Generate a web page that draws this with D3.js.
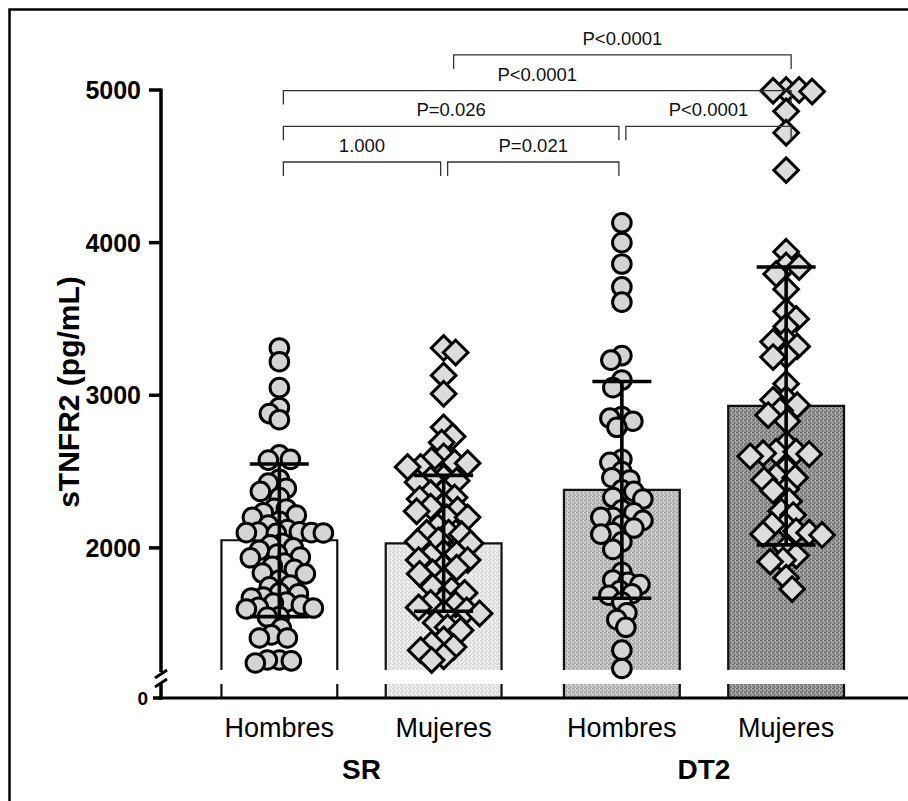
<!DOCTYPE html>
<html><head><meta charset="utf-8">
<script src="https://cdn.jsdelivr.net/npm/d3@7"></script>
<style>body{margin:0;background:#fff}svg{display:block}</style>
</head><body>
<svg id="chart" width="908" height="801"></svg>
<script>
// ---- data ----
const categories = ["Hombres", "Mujeres", "Hombres", "Mujeres"];
const groupOf = ["SR", "SR", "DT2", "DT2"];
const groupNames = ["SR", "DT2"];
const means = [2050, 2030, 2380, 2930];
const sds = [500, 445, 710, 910];
const yTicks = [0, 2000, 3000, 4000, 5000];

const srHombres = [3310, 3220, 3050, 2920, 2880, 2840, 2610, 2580, 2575, 2450, 2425, 2390, 2370, 2330,
  2260, 2255, 2230, 2215, 2200, 2175, 2150, 2120, 2105, 2104, 2100, 2100, 2098, 2095, 2030, 2020, 2000,
  1985, 1960, 1940, 1935, 1900, 1880, 1860, 1835, 1830, 1790, 1757, 1745, 1705, 1700, 1678, 1672, 1645,
  1638, 1626, 1610, 1606, 1600, 1550, 1547, 1475, 1430, 1410, 1410, 1266, 1266, 1260, 1246];
const srMujeres = [3310, 3280, 3130, 3010, 2790, 2730, 2690, 2600, 2575, 2560, 2555, 2530, 2530, 2460,
  2450, 2440, 2430, 2370, 2360, 2330, 2320, 2280, 2270, 2250, 2240, 2200, 2200, 2140, 2100, 2100, 2090,
  2050, 2040, 2030, 1970, 1960, 1950, 1920, 1920, 1880, 1870, 1840, 1830, 1790, 1745, 1725, 1705, 1660,
  1640, 1630, 1610, 1590, 1575, 1570, 1510, 1480, 1460, 1400, 1370, 1350, 1330, 1290, 1265];
const dt2Hombres = [4130, 4000, 3860, 3710, 3610, 3260, 3230, 3100, 3050, 2860, 2850, 2830, 2790, 2580,
  2560, 2500, 2460, 2445, 2380, 2370, 2330, 2320, 2250, 2230, 2200, 2200, 2180, 2150, 2130, 2100, 2090,
  2040, 1990, 1840, 1790, 1775, 1760, 1720, 1700, 1690, 1645, 1575, 1530, 1480, 1330, 1210];
const dt2Mujeres = [5000, 4995, 4990, 5000, 4860, 4720, 4475, 3940, 3850, 3840, 3795, 3695, 3550, 3500,
  3450, 3360, 3350, 3320, 3260, 3250, 3075, 2975, 2970, 2935, 2900, 2870, 2830, 2680, 2630, 2630, 2620,
  2615, 2600, 2520, 2470, 2460, 2445, 2385, 2375, 2305, 2240, 2215, 2150, 2150, 2110, 2100, 2090, 2085,
  2000, 1950, 1920, 1910, 1805, 1730];
const seriesValues = [srHombres, srMujeres, dt2Hombres, dt2Mujeres];
const markerShape = ["circle", "diamond", "circle", "diamond"];

const brackets = [
  {from: 0, to: 1, label: "1.000", level: 0},
  {from: 1, to: 2, label: "P=0.021", level: 0},
  {from: 0, to: 2, label: "P=0.026", level: 1},
  {from: 2, to: 3, label: "P<0.0001", level: 1},
  {from: 0, to: 3, label: "P<0.0001", level: 2},
  {from: 1, to: 3, label: "P<0.0001", level: 3}
];

// ---- layout ----
const svg = d3.select("#chart");
const FONT = "'Liberation Sans', Arial, Helvetica, sans-serif";
const axisX = 161;
const yUpper = d3.scaleLinear().domain([1200, 5000]).range([670, 90]);
const yLower = d3.scaleLinear().domain([0, 100]).range([698, 684]);
const xGroup = d3.scaleBand().domain(groupNames).range([190.25, 875.25]).paddingInner(0);
const xSex = d3.scaleBand().domain(["Hombres", "Mujeres"]).range([0, xGroup.bandwidth()])
  .paddingInner(0.295).paddingOuter(0.19);
const barX = i => xGroup(groupOf[i]) + xSex(categories[i]);
const barW = xSex.bandwidth();
const xc = i => barX(i) + barW / 2;

// frame
svg.append("rect").attr("x", 9.5).attr("y", 9.5).attr("width", 1000).attr("height", 1000)
  .attr("fill", "none").attr("stroke", "#000").attr("stroke-width", 2.5);

// patterns
const defs = svg.append("defs");
function makePattern(id, base, dot, dot2) {
  const p = defs.append("pattern").attr("id", id).attr("patternUnits", "userSpaceOnUse")
    .attr("width", 4).attr("height", 4);
  p.append("rect").attr("width", 4).attr("height", 4).attr("fill", base);
  p.append("rect").attr("x", 0).attr("y", 0).attr("width", 2).attr("height", 1).attr("fill", dot);
  p.append("rect").attr("x", 2).attr("y", 2).attr("width", 1).attr("height", 2).attr("fill", dot);
  p.append("rect").attr("x", 3).attr("y", 0).attr("width", 1).attr("height", 1).attr("fill", dot2);
}
makePattern("p1", "#eaeaea", "#cfcfcf", "#f6f6f6");
makePattern("p2", "#c6c6c6", "#9c9c9c", "#dedede");
makePattern("p3", "#9a9a9a", "#666666", "#bdbdbd");
const barFill = ["#ffffff", "url(#p1)", "url(#p2)", "url(#p3)"];

// bars (upper + lower segments)
categories.forEach((c, i) => {
  const g = svg.append("g");
  const top = yUpper(means[i]), bot = yUpper.range()[0];
  g.append("rect").attr("x", barX(i)).attr("y", top).attr("width", barW).attr("height", bot - top)
    .attr("fill", barFill[i]).attr("stroke", "none");
  g.append("path").attr("d", `M${barX(i)},${bot}V${top}H${barX(i) + barW}V${bot}`)
    .attr("fill", "none").attr("stroke", "#111").attr("stroke-width", 2.2);
  const lt = yLower.range()[1], lb = yLower(0);
  g.append("rect").attr("x", barX(i)).attr("y", lt).attr("width", barW).attr("height", lb - lt)
    .attr("fill", barFill[i]);
  g.append("path").attr("d", `M${barX(i)},${lt}V${lb}M${barX(i) + barW},${lt}V${lb}`)
    .attr("stroke", "#111").attr("stroke-width", 2.2);
});

// beeswarm layout
function swarm(vals, d, maxHalf) {
  const pts = vals.map(v => ({v, y: yUpper(v), x: 0})).sort((a, b) => a.y - b.y);
  const placed = [];
  pts.forEach((p, n) => {
    let best = null;
    const sgn = n % 2 === 0 ? 1 : -1;
    for (let k = 0; k < 200; k++) {
      const off = (k % 2 === 0 ? sgn : -sgn) * Math.ceil(k / 2) * 1;
      if (Math.abs(off) > maxHalf) continue;
      if (placed.every(q => (q.x - off) ** 2 + (q.y - p.y) ** 2 >= d * d)) { best = off; break; }
    }
    if (best === null) {
      let bestScore = -1;
      for (let off = -maxHalf; off <= maxHalf; off += 1) {
        const m = d3.min(placed, q => (q.x - off) ** 2 + (q.y - p.y) ** 2);
        if (m > bestScore) { bestScore = m; best = off; }
      }
    }
    p.x = best; placed.push(p);
  });
  return pts;
}

// points
seriesValues.forEach((vals, i) => {
  const isC = markerShape[i] === "circle";
  const pts = swarm(vals, isC ? 11.5 : 12.5, 52);
  const g = svg.append("g");
  if (isC) {
    g.selectAll("circle").data(pts).join("circle")
      .attr("cx", d => xc(i) + d.x).attr("cy", d => d.y).attr("r", 9.3)
      .attr("fill", "#d4d4d4").attr("stroke", "#000").attr("stroke-width", 3);
  } else {
    const r = 12.3;
    g.selectAll("path").data(pts).join("path")
      .attr("d", d => `M${xc(i) + d.x},${d.y - r}l${r},${r}l${-r},${r}l${-r},${-r}z`)
      .attr("fill", "#dcdcdc").attr("stroke", "#000").attr("stroke-width", 3).attr("stroke-linejoin", "miter");
  }
});

// error bars
categories.forEach((c, i) => {
  const hi = yUpper(means[i] + sds[i]), lo = yUpper(means[i] - sds[i]);
  const cw = 29.5;
  svg.append("path")
    .attr("d", `M${xc(i)},${hi}V${lo}M${xc(i) - cw},${hi}H${xc(i) + cw}M${xc(i) - cw},${lo}H${xc(i) + cw}`)
    .attr("stroke", "#000").attr("stroke-width", 3.6).attr("fill", "none");
});

// y axis
const ya = svg.append("g");
ya.append("line").attr("x1", axisX).attr("x2", axisX).attr("y1", yUpper(5000) - 1.5).attr("y2", yUpper.range()[0] + 2)
  .attr("stroke", "#000").attr("stroke-width", 3.5);
ya.append("line").attr("x1", axisX).attr("x2", axisX).attr("y1", yLower.range()[1]).attr("y2", yLower(0) + 1.5)
  .attr("stroke", "#000").attr("stroke-width", 3.5);
// break marks
[yUpper.range()[0] + 4, yLower.range()[1] - 1].forEach(yy => {
  ya.append("line").attr("x1", axisX - 6).attr("y1", yy + 4).attr("x2", axisX + 6).attr("y2", yy - 4)
    .attr("stroke", "#000").attr("stroke-width", 3);
});
yTicks.forEach(t => {
  const isZero = t === 0;
  const yy = isZero ? yLower(0) : yUpper(t);
  ya.append("line").attr("x1", axisX - (isZero ? 8 : 12)).attr("x2", axisX).attr("y1", yy).attr("y2", yy)
    .attr("stroke", "#000").attr("stroke-width", 3.5);
  ya.append("text").attr("x", axisX - (isZero ? 13 : 20)).attr("y", yy).attr("dy", "0.36em")
    .attr("text-anchor", "end").attr("font-family", FONT).attr("font-weight", "bold")
    .attr("font-size", isZero ? 19 : 25).text(d3.format("d")(t));
});
// x axis
svg.append("line").attr("x1", axisX - 1.5).attr("x2", 908).attr("y1", yLower(0)).attr("y2", yLower(0))
  .attr("stroke", "#000").attr("stroke-width", 3.2);

// y label
svg.append("text").attr("transform", "translate(79,392) rotate(-90)").attr("text-anchor", "middle")
  .attr("font-family", FONT).attr("font-weight", "bold").attr("font-size", 30).text("sTNFR2 (pg/mL)");

// x labels
categories.forEach((c, i) => {
  svg.append("text").attr("x", xc(i)).attr("y", 737).attr("text-anchor", "middle")
    .attr("font-family", FONT).attr("font-size", 27).text(c);
});
groupNames.forEach(gn => {
  svg.append("text").attr("x", xGroup(gn) + xGroup.bandwidth() / 2).attr("y", 779).attr("text-anchor", "middle")
    .attr("font-family", FONT).attr("font-weight", "bold").attr("font-size", 28).text(gn);
});

// significance brackets
const levelY = l => 162 - l * 35.7;
brackets.forEach(b => {
  const x1 = xc(b.from) + (b.level === 3 ? 10 : 4);
  const x2 = xc(b.to) + (b.to === 3 ? 5 : -3);
  const ly = levelY(b.level);
  svg.append("path").attr("d", `M${x1},${ly + 14}V${ly}H${x2}V${ly + 14}`)
    .attr("fill", "none").attr("stroke", "#333").attr("stroke-width", 1.3);
  svg.append("text").attr("x", (x1 + x2) / 2).attr("y", ly - 10).attr("text-anchor", "middle")
    .attr("font-family", FONT).attr("font-size", 18.5).attr("fill", "#111").text(b.label);
});
</script>
</body></html>
